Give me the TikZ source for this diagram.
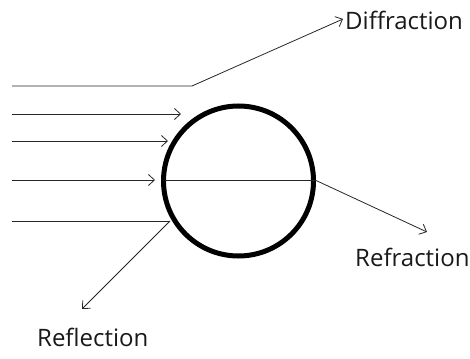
\documentclass[tikz,border=0pt]{standalone}
\usepackage{fontspec}
\setmainfont{Open Sans}
\usetikzlibrary{arrows.meta}
\begin{document}
\begin{tikzpicture}[x=1pt,y=-1pt,
  ray/.style={line width=0.8pt, draw=black!85},
  arr/.style={ray, -{Straight Barb[length=6pt,width=11pt,line width=0.8pt]}},
  lbl/.style={font=\fontsize{24}{28}\selectfont, text=black!90, inner sep=0pt}]
\useasboundingbox (0,0) rectangle (470,358);
\node[circle, draw, line width=5pt, minimum size=150pt, inner sep=0pt] (ball) at (238.5,181) {};
% ray 1: diffraction
\coordinate (s1) at (12,86);
\coordinate (b1) at (192,86);
\coordinate (e1) at (343,19);
\node[lbl, anchor=west] (diff) at (345,20) {Diffraction};
\draw[arr] (s1) -- (b1) -- (e1);
% ray 2
\coordinate (s2) at (12,114);
\coordinate (e2) at (181,114);
\draw[arr] (s2) -- (e2);
% ray 3
\coordinate (s3) at (12,141);
\coordinate (e3) at (168,141);
\draw[arr] (s3) -- (e3);
% ray 4 and refraction
\coordinate (s4) at (12,180);
\coordinate (e4) at (155,180);
\draw[arr] (s4) -- (e4);
\coordinate (i4) at (165,180);
\coordinate (o4) at (315,180);
\coordinate (r4) at (427,232);
\draw[ray] (i4) -- (o4);
\draw[arr] (o4) -- (r4);
\node[lbl, anchor=west] (refr) at (355,257) {Refraction};
% ray 5 and reflection
\coordinate (s5) at (12,221);
\coordinate (h5) at (170,221);
\coordinate (r5) at (82,309);
\draw[ray] (s5) -- (h5);
\draw[arr] (h5) -- (r5);
\node[lbl, anchor=west] (refl) at (37,337) {Reflection};
\end{tikzpicture}
\end{document}
